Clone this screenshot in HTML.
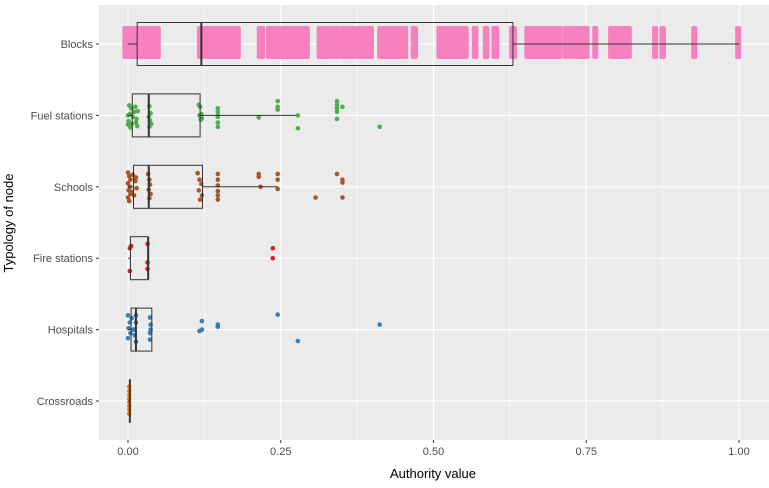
<!DOCTYPE html>
<html><head><meta charset="utf-8"><style>
body{margin:0;background:#fff}
svg text{font-family:"Liberation Sans",sans-serif}
</style></head><body>
<svg id="chart" width="769" height="483" xmlns="http://www.w3.org/2000/svg">
<rect x="99" y="5" width="670" height="435" fill="#EBEBEB"/>
<g id="grid"></g><g id="marks"></g><g id="axes"></g>
<text x="433" y="478" font-size="13" text-anchor="middle" fill="#000">Authority value</text>
<text transform="translate(13,223) rotate(-90)" font-size="13" text-anchor="middle" fill="#000">Typology of node</text>
</svg>
<script>
const categories=["Blocks","Fuel stations","Schools","Fire stations","Hospitals","Crossroads"];
const colors=["#F781BF","#4DAF4A","#A65628","#E41A1C","#377EB8","#FF7F00"];
const xTicks=[0,0.25,0.5,0.75,1];
const xTickLabels=["0.00","0.25","0.50","0.75","1.00"];
const q1=[0.015,0.007,0.009,0.004,0.005,0.003];
const med=[0.12,0.034,0.034,0.033,0.013,0.003];
const q3=[0.63,0.118,0.122,0.033,0.039,0.003];
const wLo=[0,0,0,0,0,0];
const wHi=[1.0,0.275,0.245,0.033,0.039,0.003];
const blockClusters=[[-0.006,0.052],[0.116,0.183],[0.214,0.223],[0.229,0.296],[0.312,0.331],[0.335,0.345],[0.349,0.356],[0.359,0.372],[0.376,0.384],[0.387,0.401],[0.411,0.429],[0.431,0.45],[0.452,0.457],[0.466,0.473],[0.508,0.556],[0.566,0.572],[0.584,0.59],[0.598,0.606],[0.627,0.635],[0.652,0.7],[0.702,0.71],[0.715,0.722],[0.726,0.754],[0.763,0.768],[0.789,0.823],[0.861,0.866],[0.873,0.879],[0.925,0.93],[0.997,1.002]];
const fuelPts=[[0.002,-0.14],[0.005,-0.1],[0.012,-0.12],[0.016,-0.06],[0.003,-0.02],[0.008,0.02],[0.014,0.05],[0.001,0.08],[0.006,0.12],[0.015,0.15],[0.01,-0.05],[0.004,0.17],[0.013,0.1],[0.0,0.0],[0.0,0.13],[0.035,-0.13],[0.037,-0.03],[0.034,0.02],[0.036,0.07],[0.038,0.12],[0.035,0.16],[0.116,-0.15],[0.118,-0.12],[0.12,-0.02],[0.117,0.0],[0.121,0.04],[0.119,0.06],[0.147,-0.1],[0.147,-0.05],[0.147,0.0],[0.147,0.02],[0.147,0.1],[0.147,0.16],[0.214,0.03],[0.245,-0.2],[0.245,-0.12],[0.245,-0.08],[0.278,0.0],[0.278,0.18],[0.342,-0.2],[0.342,-0.15],[0.342,-0.1],[0.342,-0.05],[0.342,0.05],[0.351,-0.12],[0.412,0.16]];
const schoolPts=[[0.0,-0.2],[0.002,-0.15],[0.004,-0.1],[0.0,-0.05],[0.003,0.0],[0.001,0.05],[0.004,0.1],[0.0,0.15],[0.002,0.2],[0.008,-0.17],[0.012,-0.08],[0.014,0.02],[0.01,0.12],[0.006,0.07],[0.013,-0.13],[0.033,-0.18],[0.035,-0.1],[0.036,-0.03],[0.034,0.04],[0.037,0.1],[0.035,0.16],[0.114,-0.19],[0.117,-0.1],[0.12,-0.04],[0.116,0.05],[0.121,0.12],[0.118,0.18],[0.147,-0.18],[0.147,-0.1],[0.147,-0.02],[0.147,0.06],[0.147,0.12],[0.147,0.18],[0.214,-0.18],[0.214,-0.14],[0.217,0.0],[0.245,-0.18],[0.245,-0.1],[0.245,0.03],[0.307,0.15],[0.342,-0.18],[0.351,-0.1],[0.351,-0.06],[0.351,0.15]];
const firePts=[[0.003,-0.14],[0.005,-0.17],[0.003,0.18],[0.032,-0.2],[0.032,0.06],[0.032,0.15],[0.237,-0.14],[0.237,0.0]];
const hospPts=[[0.0,-0.2],[0.003,-0.1],[0.001,-0.02],[0.004,0.05],[0.0,0.12],[0.006,-0.16],[0.009,0.0],[0.011,0.08],[0.013,-0.2],[0.013,-0.1],[0.013,0.17],[0.036,-0.17],[0.037,-0.07],[0.037,0.0],[0.036,0.05],[0.036,0.14],[0.121,-0.12],[0.117,0.02],[0.121,0.0],[0.147,-0.07],[0.147,-0.04],[0.245,-0.21],[0.278,0.16],[0.412,-0.07]];
const crossPts=[[0.002,-0.2],[0.002,-0.14],[0.002,-0.08],[0.002,-0.03],[0.002,0.02],[0.002,0.07],[0.002,0.12],[0.002,0.18]];
const ptSets=[null,fuelPts,schoolPts,firePts,hospPts,crossPts];

const X0=128,X1=739;
const xs=v=>X0+v*(X1-X0);
const ys=i=>44+i*71.4;
const NS="http://www.w3.org/2000/svg";
function mk(tag,attrs,parent){const e=document.createElementNS(NS,tag);for(const k in attrs)e.setAttribute(k,attrs[k]);document.getElementById(parent).appendChild(e);return e;}

for(let t=0.125;t<1.1;t+=0.25){const g=mk('line',{x1:xs(t),x2:xs(t),y1:5,y2:440,stroke:'#fff','stroke-width':0.6},'grid');

}
xTicks.forEach((t,i)=>{const g=mk('line',{x1:xs(t),x2:xs(t),y1:5,y2:440,stroke:'#fff','stroke-width':1.2},'grid');


const tk=mk('line',{x1:xs(t),x2:xs(t),y1:440,y2:443,stroke:'#333'},'axes');


const tx=mk('text',{x:xs(t),y:455,'font-size':11,fill:'#4D4D4D','text-anchor':'middle'},'axes');tx.textContent=xTickLabels[i];

});
categories.forEach((c,i)=>{const g=mk('line',{x1:99,x2:769,y1:ys(i),y2:ys(i),stroke:'#fff','stroke-width':1.2},'grid');


const tk=mk('line',{x1:96,x2:99,y1:ys(i),y2:ys(i),stroke:'#333'},'axes');


const tx=mk('text',{x:93,y:ys(i)+4,'font-size':11,fill:'#4D4D4D','text-anchor':'end'},'axes');tx.textContent=c;

});

blockClusters.forEach(c=>{const r=mk('rect',{x:xs(c[0])-2,y:26,width:Math.max(xs(c[1])-xs(c[0])+3,4),height:33,rx:2,fill:colors[0]},'marks');

});
ptSets.forEach((s,i)=>{if(!s)return;s.forEach(p=>{const c=mk('circle',{cx:xs(p[0]),cy:ys(i)+p[1]*71.4,r:2.3,fill:colors[i]},'marks');

});});
categories.forEach((c,i)=>{const y=ys(i),h=21.5;
const w1=mk('line',{x1:xs(q3[i]),x2:xs(wHi[i]),y1:y,y2:y,stroke:'#333','stroke-width':1},'marks');


const w2=mk('line',{x1:xs(wLo[i]),x2:xs(q1[i]),y1:y,y2:y,stroke:'#333','stroke-width':1},'marks');


const b=mk('rect',{x:xs(q1[i]),y:y-h,width:Math.max(xs(q3[i])-xs(q1[i]),0.1),height:2*h,fill:'none',stroke:'#333','stroke-width':1},'marks');


const m=mk('line',{x1:xs(med[i]),x2:xs(med[i]),y1:y-h,y2:y+h,stroke:'#333','stroke-width':2},'marks');

});
</script>
</body></html>
